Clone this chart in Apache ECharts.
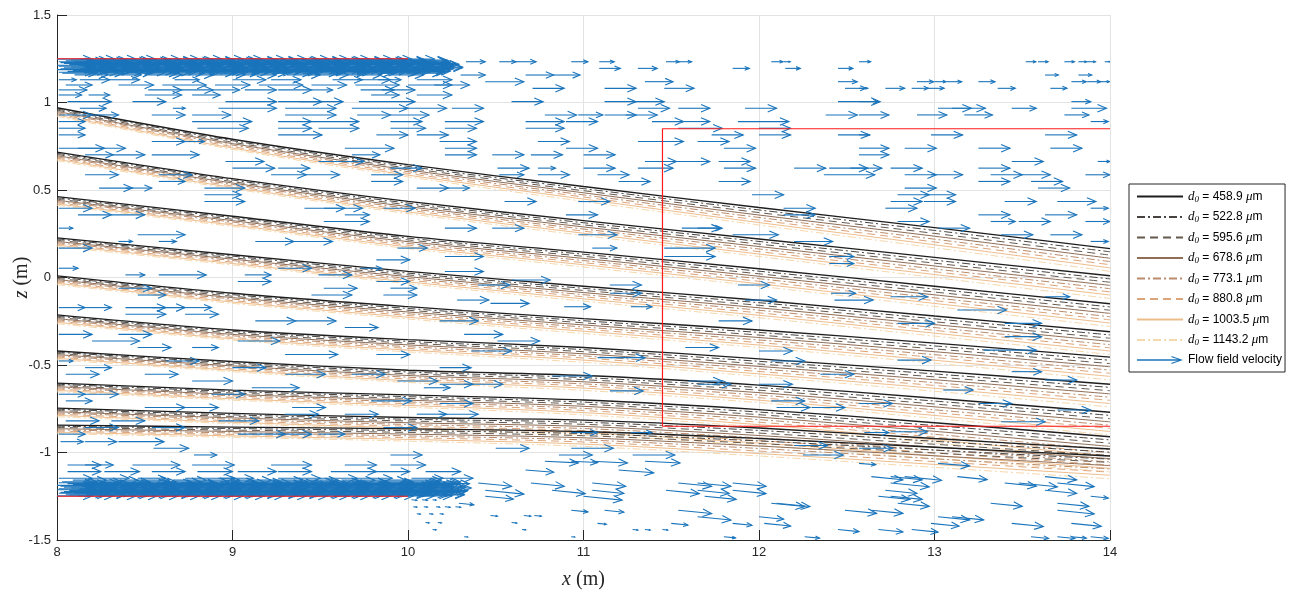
<!DOCTYPE html>
<html><head><meta charset="utf-8">
<script src="https://cdn.jsdelivr.net/npm/echarts@6/dist/echarts.min.js"></script>
<style>html,body{margin:0;padding:0;background:#fff}#c{width:1289px;height:592px}</style>
</head><body><div id="c"></div><script>
// ---------- data ----------
const xTicks = [8, 9, 10, 11, 12, 13, 14];
const zTicks = [-1.5, -1, -0.5, 0, 0.5, 1, 1.5];
const diameters = ['458.9', '522.8', '595.6', '678.6', '773.1', '880.8', '1003.5', '1143.2'];
const trajX = [8, 9, 10, 11, 12, 13, 14];
// smallest-droplet trajectory z at trajX, one per release height
const trajBase = [
  [0.970, 0.790, 0.645, 0.520, 0.400, 0.285, 0.165],
  [0.717, 0.565, 0.435, 0.325, 0.220, 0.115, 0.010],
  [0.462, 0.350, 0.235, 0.145, 0.050, -0.050, -0.150],
  [0.227, 0.130, 0.035, -0.050, -0.130, -0.220, -0.310],
  [0.009, -0.090, -0.167, -0.235, -0.300, -0.375, -0.455],
  [-0.214, -0.300, -0.355, -0.400, -0.465, -0.535, -0.610],
  [-0.420, -0.480, -0.530, -0.560, -0.615, -0.690, -0.770],
  [-0.603, -0.643, -0.671, -0.700, -0.755, -0.830, -0.910],
  [-0.746, -0.777, -0.800, -0.815, -0.860, -0.920, -0.980],
  [-0.843, -0.855, -0.865, -0.880, -0.920, -0.970, -1.020]
];
// extra fall below the smallest droplet, per diameter, at trajX
const diamDrop = [
  [0, 0, 0, 0, 0, 0, 0],
  [0.007, 0.008, 0.010, 0.012, 0.014, 0.016, 0.018],
  [0.014, 0.017, 0.020, 0.024, 0.029, 0.033, 0.037],
  [0.021, 0.025, 0.030, 0.036, 0.043, 0.049, 0.055],
  [0.028, 0.033, 0.040, 0.048, 0.057, 0.066, 0.074],
  [0.035, 0.042, 0.050, 0.060, 0.072, 0.082, 0.092],
  [0.042, 0.050, 0.060, 0.072, 0.086, 0.098, 0.110],
  [0.050, 0.058, 0.070, 0.085, 0.100, 0.115, 0.130]
];
// quiver rows: [z, flow slope dz/dx, [x0, u0, x1, u1, ...]]
const quiverRows = [
  [1.233, 0, [10.33,.11,10.52,.095,10.61,.12,10.93,.095,11.09,.085,11.47,.076,11.54,.076,12.07,.066,12.14,.038,12.57,.066,13.52,.057,13.59,.057,13.74,.057,13.82,.047,13.87,.047,13.97,.03]],
  [1.195, 0, [11.09,.12,11.31,.11,11.85,.095,12.15,.085,12.45,.085]],
  [1.157, 0, [10.30,.14,10.67,.16,10.83,.15,13.63,.076,13.82,.076]],
  [1.13, 0, [8.01,.10,8.13,.17,8.30,.17,8.67,.14,9.00,.19,9.22,.17,9.57,.17,9.71,.19,9.83,.13,10.05,.20]],
  [1.119, 0, [10.44,.22,11.35,.16,12.45,.11,12.90,.095,13.00,.066,13.07,.085,13.25,.095,13.78,.085,13.87,.076,13.94,.057]],
  [1.10, 0, [8.05,.15,8.35,.20,8.60,.25,8.90,.20,9.15,.25,9.45,.20,9.70,.25,10.00,.25,10.15,.20]],
  [1.081, 0, [10.71,.18,11.12,.18,11.46,.17,12.49,.12,12.57,.05,12.72,.11,12.87,.095,12.96,.095,13.36,.10,13.66,.095]],
  [1.072, 0, [8.01,.16,8.52,.19,8.71,.18,8.89,.15,9.07,.18,9.26,.19,9.45,.12,9.73,.19,9.85,.19]],
  [1.043, 0, [8.01,.13,8.18,.12,8.50,.21,8.77,.16,9.79,.16,10.05,.20]],
  [1.005, 0, [8.06,.25,8.43,.19,8.96,.29,9.26,.25,9.38,.25,9.72,.32,10.59,.18,11.12,.18,11.28,.18,12.45,.24,12.57,.11,13.78,.11]],
  [0.967, 0, [8.13,.15,8.66,.07,8.92,.33,9.30,.29,9.68,.32,9.97,.25,10.25,.18,11.31,.18,11.54,.18,11.92,.18,13.02,.19,13.10,.19,13.44,.14,13.78,.20]],
  [0.929, 0, [8.01,.19,8.20,.15,8.54,.19,8.77,.22,9.30,.29,9.71,.19,9.90,.22,10.78,.18,10.97,.14,11.12,.18,11.24,.18,12.38,.18,12.57,.17,12.90,.17,13.17,.16,13.74,.14]],
  [0.891, 0, [8.01,.15,8.77,.34,9.26,.19,9.45,.27,9.90,.18,10.21,.22,10.67,.22,10.90,.18,11.39,.18,11.54,.18,11.88,.29,13.89,.10]],
  [0.853, 0, [8.01,.15,8.80,.29,9.26,.19,9.49,.23,9.90,.20,10.21,.18,10.67,.22,11.54,.25,12.00,.18]],
  [0.815, 0, [8.01,.15,9.26,.25,9.82,.18,10.05,.18,11.73,.18,12.00,.18,12.45,.18,12.57,.06,12.98,.18,13.63,.18]],
  [0.777, 0, [8.54,.19,8.73,.11,10.18,.21,10.74,.18,11.31,.26,11.65,.18]],
  [0.739, 0, [8.01,.26,8.12,.27,9.64,.28,10.21,.18,10.90,.18,11.80,.18,12.57,.17,12.83,.18,13.25,.18,13.66,.18]],
  [0.701, 0, [8.16,.16,8.31,.19,8.54,.27,9.68,.16,10.21,.18,10.48,.18,10.70,.18,11.00,.18,12.57,.17]],
  [0.663, 0, [8.96,.22,9.49,.26,11.35,.18,11.50,.22,11.77,.18,13.44,.18,13.93,.07]],
  [0.625, 0, [9.00,.24,9.26,.18,9.90,.18,10.51,.18,10.74,.10,11.00,.18,11.31,.20,11.80,.18,12.20,.18,12.40,.22,12.52,.18,12.75,.18,13.25,.18]],
  [0.587, 0, [8.16,.19,8.58,.19,9.22,.20,9.41,.20,9.79,.18,10.52,.14,10.74,.18,11.08,.18,12.37,.29,12.83,.18,12.98,.18,13.32,.18,13.48,.18,13.86,.14]],
  [0.549, 0, [8.58,.15,9.79,.18,11.20,.18,11.77,.18,13.25,.18,13.55,.18]],
  [0.511, 0, [8.24,.19,8.39,.15,8.84,.23,10.05,.18,10.21,.14,12.83,.18,13.59,.18]],
  [0.473, 0, [8.84,.21,11.96,.18,12.79,.18,12.94,.18]],
  [0.434, 0, [8.84,.23,10.55,.18,10.97,.18,12.75,.18,12.94,.18,13.40,.18,13.70,.22]],
  [0.396, 0, [8.01,.19,9.41,.23,9.52,.22,9.86,.18,12.14,.18,12.72,.18,13.89,.10]],
  [0.358, 0, [8.12,.19,8.31,.19,9.64,.14,10.90,.18,12.14,.18,13.25,.18,13.63,.18]],
  [0.32, 0, [9.52,.26,12.79,.18,13.32,.14,13.48,.18,13.86,.14]],
  [0.282, 0, [8.01,.08,10.21,.18,10.48,.18,11.56,.22,11.65,.14,13.02,.18]],
  [0.244, 0, [8.46,.27,10.97,.22,11.85,.26,13.38,.18,13.66,.18]],
  [0.206, 0, [8.35,.08,8.58,.10,9.13,.22,9.35,.22,12.20,.22,13.89,.10]],
  [0.168, 0, [8.01,.19,9.94,.17,11.05,.14,11.46,.29]],
  [0.12, 0, [10.21,.22,11.46,.29,12.40,.14]],
  [0.101, 0, [9.82,.19]],
  [0.08, 0, [12.40,.14]],
  [0.053, 0, [8.01,.11,9.26,.19,9.73,.12]],
  [0.034, 0, [10.21,.22]],
  [0.015, 0, [8.39,.11,8.58,.27,9.07,.15,9.49,.19]],
  [-0.014, 0, [10.59,.22]],
  [-0.023, 0, [9.03,.19,9.82,.19]],
  [-0.043, 0, [10.40,.18,11.15,.18,11.88,.18]],
  [-0.061, 0, [8.35,.19,9.52,.19,9.90,.15]],
  [-0.09, 0, [11.15,.18,12.41,.14]],
  [-0.1, 0, [8.46,.16,9.45,.23,9.86,.19]],
  [-0.11, 0, [12.75,.21,13.63,.14]],
  [-0.129, 0, [10.28,.18,11.92,.18,12.43,.22]],
  [-0.148, 0, [10.47,.22]],
  [-0.167, 0, [10.89,.15,11.27,.12]],
  [-0.172, 0, [8.01,.15,8.16,.15,8.39,.23,8.54,.19,8.73,.15]],
  [-0.186, 0, [13.13,.28]],
  [-0.21, 0, [8.39,.23,8.73,.19]],
  [-0.248, 0, [9.13,.23,9.36,.23,10.18,.22,11.77,.19]],
  [-0.262, 0, [12.79,.21,13.40,.21]],
  [-0.286, 0, [9.64,.19]],
  [-0.325, 0, [8.01,.19,8.35,.19,10.32,.22]],
  [-0.338, 0, [13.40,.21]],
  [-0.363, 0, [8.20,.27,9.03,.24,10.51,.24]],
  [-0.4, 0, [8.46,.19,8.77,.15,11.58,.19]],
  [-0.415, 0, [13.28,.30]],
  [-0.42, 0, [10.36,.23,12.00,.19]],
  [-0.44, 0, [9.30,.30,9.82,.19]],
  [-0.458, 0, [11.08,.27]],
  [-0.472, 0, [12.79,.19]],
  [-0.477, 0, [8.01,.08,8.62,.19,12.07,.19]],
  [-0.515, 0, [8.16,.15,9.00,.19,10.18,.18]],
  [-0.538, 0, [13.44,.17]],
  [-0.553, 0, [8.05,.19,8.50,.19,9.30,.23,9.68,.19,12.35,.19]],
  [-0.563, 0, [10.82,.23]],
  [-0.586, 0, [13.63,.18]],
  [-0.591, 0, [8.77,.23,9.94,.23,11.60,.19]],
  [-0.61, 0, [10.18,.19,10.32,.22,11.65,.19,12.00,.19]],
  [-0.63, 0, [9.11,.27,10.09,.15]],
  [-0.643, 0, [13.05,.17]],
  [-0.648, 0, [11.15,.19]],
  [-0.667, 0, [8.01,.15,8.16,.19,8.88,.19]],
  [-0.705, 0, [8.05,.15,9.79,.23,12.07,.19]],
  [-0.72, 0, [10.18,.19,12.57,.19,13.25,.19]],
  [-0.743, 0, [8.50,.23,8.73,.19,9.34,.19,12.10,.19,12.30,.19]],
  [-0.757, 0, [13.70,.19]],
  [-0.781, 0, [9.30,.19,9.64,.19,10.05,.17,10.18,.22]],
  [-0.819, 0, [8.05,.19,8.31,.19,8.92,.23]],
  [-0.824, 0, [13.38,.25]],
  [-0.857, 0, [8.16,.19,8.54,.19,9.86,.19]],
  [-0.881, 0, [12.75,.21]],
  [-0.886, 0, [10.93,.15,11.27,.12,12.60,.14]],
  [-0.895, 0, [8.01,.15,9.03,.27,9.26,.19,9.49,.15]],
  [-0.938, 0, [8.02,.13,8.16,.18,8.35,.26]],
  [-0.96, 0, [12.20,.19]],
  [-0.976, 0, [8.55,.20,10.50,.19,10.93,.24,12.57,.19]],
  [-1.014, 0, [8.78,.13,9.90,.18,10.86,.19,11.28,.24,12.25,.23]],
  [-1.05, -0.05, [10.78,.19,10.93,.15,11.05,.20,11.35,.20]],
  [-1.062, -0.08, [12.57,.095,13.02,.18]],
  [-1.071, 0, [8.06,.19,8.16,.16,8.43,.27,8.77,.24,9.22,.23,9.64,.18,9.90,.20]],
  [-1.10, -0.08, [10.67,.16,11.20,.20]],
  [-1.109, 0, [8.06,.19,8.27,.20,8.54,.19,8.80,.20,9.03,.22,9.26,.19,9.56,.26,9.79,.22,10.10,.20]],
  [-1.138, -0.1, [12.64,.18,12.75,.18,12.83,.21,13.13,.17,13.63,.18]],
  [-1.147, 0, [8.01,.19,8.20,.21,8.46,.16,8.73,.28,8.92,.20,9.26,.24,9.49,.22,9.71,.20,10.02,.18,10.18,.19]],
  [-1.174, -0.1, [10.40,.19,10.70,.19,11.05,.19,11.54,.19,11.65,.19,11.85,.19,12.75,.22,13.40,.18,13.48,.22,13.70,.21]],
  [-1.216, -0.1, [10.44,.22,10.82,.19,11.05,.18,11.47,.19,11.65,.18,11.85,.19,12.72,.18,13.63,.18]],
  [-1.25, -0.1, [10.44,.16,11.00,.22,11.69,.18,12.68,.18,12.75,.18,13.89,.10]],
  [-1.27, -0.1, [10.02,.03,10.08,.03,10.14,.02]],
  [-1.29, -0.1, [10.29,.085,12.07,.19,12.10,.19,12.79,.18,13.32,.18,13.70,.18]],
  [-1.31, -0.1, [10.03,.02,10.09,.02,10.16,.02,10.21,.03,10.27,.03]],
  [-1.33, -0.1, [10.93,.095,11.12,.11,11.54,.19,12.49,.18,12.64,.18,13.70,.21]],
  [-1.35, -0.1, [10.05,.02,10.12,.02,10.18,.02]],
  [-1.36, -0.1, [10.47,.04,10.66,.04,10.72,.04]],
  [-1.367, -0.1, [11.65,.19,12.00,.14,13.02,.18,13.10,.18]],
  [-1.40, -0.1, [10.10,.02,10.17,.02,10.59,.03]],
  [-1.405, -0.1, [11.08,.05,11.50,.095,11.85,.11,12.03,.15,12.98,.16,13.44,.18,13.78,.17]],
  [-1.44, -0.1, [10.14,.02,10.65,.02,11.28,.03,11.35,.03,11.45,.03,12.45,.12,12.68,.14,12.87,.15]],
  [-1.481, -0.1, [10.32,.02,10.93,.02,11.80,.066,12.26,.085,13.55,.10,13.70,.10,13.78,.085,13.89,.10]]
];
// dense near-wall bands: [z, u, [x0, x1, ...]]
const bandRows = [
  [1.248, .20, [8.00,8.13,8.25,8.36,8.50,8.61,8.74,8.86,8.97,9.10,9.22,9.35,9.46,9.58,9.71,9.82,9.95]],
  [1.243, .21, [8.08,8.19,8.32,8.44,8.56,8.68,8.80,8.93,9.04,9.16,9.29,9.41,9.53,9.65,9.78,9.89,10.01]],
  [1.238, .22, [8.05,8.17,8.30,8.42,8.55,8.66,8.79,8.91,9.03,9.15,9.27,9.40,9.51,9.64,9.76,9.88,10.00]],
  [1.233, .20, [8.01,8.10,8.22,8.34,8.46,8.59,8.71,8.82,8.95,9.07,9.18,9.31,9.43,9.55,9.67,9.79,9.91,10.03]],
  [1.228, .20, [8.02,8.11,8.23,8.38,8.47,8.60,8.72,8.83,8.96,9.08,9.19,9.33,9.44,9.57,9.69,9.80,9.93,10.04]],
  [1.223, .21, [8.04,8.15,8.28,8.40,8.52,8.64,8.76,8.88,9.00,9.12,9.24,9.37,9.48,9.60,9.72,9.84,9.96,10.06]],
  [1.218, .22, [8.07,8.19,8.31,8.44,8.53,8.67,8.78,8.90,9.02,9.14,9.26,9.38,9.50,9.62,9.74,9.86,9.98,10.07]],
  [1.213, .20, [8.00,8.12,8.24,8.36,8.49,8.61,8.73,8.85,8.97,9.09,9.21,9.33,9.46,9.58,9.70,9.82,9.94,10.06]],
  [1.208, .21, [8.01,8.14,8.26,8.37,8.49,8.62,8.73,8.85,8.98,9.09,9.21,9.34,9.45,9.57,9.70,9.81,9.94,10.05]],
  [1.203, .22, [8.08,8.20,8.32,8.45,8.57,8.69,8.81,8.93,9.05,9.17,9.30,9.42,9.54,9.66,9.78,9.90,10.02,10.09]],
  [1.198, .23, [8.04,8.16,8.29,8.41,8.56,8.68,8.80,8.92,9.04,9.17,9.29,9.41,9.53,9.65,9.77,9.89,10.01,10.08]],
  [1.193, .20, [8.02,8.13,8.27,8.39,8.51,8.63,8.75,8.87,8.99,9.11,9.23,9.36,9.48,9.60,9.73,9.85,9.97,10.06]],
  [1.188, .21, [8.00,8.12,8.24,8.35,8.48,8.59,8.71,8.84,8.95,9.07,9.20,9.31,9.43,9.55,9.68,9.79,9.92,10.03]],
  [1.183, .21, [8.09,8.22,8.37,8.51,8.65,8.77,8.90,9.02,9.13,9.27,9.39,9.52,9.63,9.75,9.88,10.00]],
  [1.178, .22, [8.06,8.20,8.33,8.45,8.58,8.70,8.83,8.94,9.06,9.18,9.30,9.42,9.54,9.66,9.78,9.91,10.02]],
  [1.173, .20, [8.01,8.15,8.29,8.42,8.56,8.73,8.87,9.01,9.14,9.28,9.44,9.59,9.74,9.87,10.01]],
  [1.168, .20, [8.03,8.18,8.34,8.49,8.64,8.81,8.95,9.11,9.25,9.40,9.56,9.71,9.85,9.99]],
  [1.158, .19, [8.10,8.29,8.52,8.70,8.88,9.06,9.31,9.47,9.66,9.90]],
  [-1.248, .20, [8.00,8.12,8.25,8.37,8.49,8.61,8.73,8.86,8.98,9.09,9.22,9.34,9.46,9.58,9.70,9.83,9.95,10.05]],
  [-1.243, .21, [8.07,8.18,8.31,8.43,8.55,8.68,8.80,8.92,9.04,9.16,9.28,9.41,9.53,9.65,9.77,9.89,10.02,10.11]],
  [-1.238, .22, [8.05,8.17,8.29,8.41,8.54,8.66,8.78,8.90,9.03,9.15,9.27,9.39,9.51,9.63,9.75,9.88,10.00,10.10]],
  [-1.233, .20, [8.01,8.10,8.23,8.35,8.47,8.59,8.71,8.83,8.96,9.08,9.20,9.32,9.44,9.56,9.68,9.81,9.93,10.06]],
  [-1.228, .21, [8.02,8.14,8.26,8.38,8.50,8.63,8.75,8.87,8.99,9.11,9.24,9.36,9.48,9.60,9.72,9.84,9.97,10.08]],
  [-1.223, .21, [8.04,8.16,8.28,8.40,8.52,8.64,8.77,8.89,9.01,9.13,9.25,9.38,9.50,9.62,9.74,9.86,9.98,10.12]],
  [-1.218, .22, [8.07,8.19,8.31,8.43,8.56,8.68,8.80,8.93,9.05,9.17,9.29,9.41,9.53,9.66,9.78,9.90,10.02,10.12]],
  [-1.213, .20, [8.00,8.12,8.24,8.37,8.49,8.61,8.73,8.85,8.97,9.10,9.22,9.34,9.46,9.58,9.70,9.83,9.95,10.09]],
  [-1.208, .21, [8.01,8.13,8.24,8.36,8.48,8.60,8.72,8.84,8.96,9.08,9.20,9.32,9.45,9.57,9.69,9.81,9.93,10.05]],
  [-1.203, .22, [8.08,8.20,8.33,8.45,8.57,8.69,8.81,8.94,9.06,9.18,9.30,9.42,9.55,9.67,9.79,9.91,10.04,10.14]],
  [-1.198, .23, [8.04,8.16,8.28,8.40,8.53,8.65,8.77,8.89,9.01,9.14,9.26,9.38,9.50,9.62,9.74,9.87,9.99,10.10]],
  [-1.193, .20, [8.02,8.14,8.26,8.38,8.51,8.63,8.75,8.87,8.99,9.12,9.24,9.36,9.48,9.60,9.72,9.85,9.97,10.11]],
  [-1.188, .21, [8.00,8.11,8.23,8.35,8.47,8.59,8.71,8.83,8.95,9.07,9.19,9.31,9.43,9.55,9.68,9.80,9.92,10.04]],
  [-1.183, .21, [8.09,8.21,8.34,8.46,8.58,8.71,8.84,8.96,9.09,9.22,9.34,9.47,9.59,9.71,9.84,9.96,10.08]],
  [-1.178, .22, [8.06,8.19,8.31,8.44,8.57,8.69,8.82,8.94,9.06,9.18,9.30,9.43,9.56,9.68,9.80,9.93,10.05,10.13]],
  [-1.173, .20, [8.01,8.15,8.29,8.43,8.57,8.71,8.85,8.99,9.13,9.27,9.41,9.55,9.69,9.83,9.97,10.09]],
  [-1.168, .20, [8.03,8.17,8.33,8.48,8.62,8.78,8.93,9.08,9.23,9.38,9.53,9.68,9.83,9.98,10.10]],
  [-1.158, .19, [8.09,8.27,8.45,8.66,8.85,9.03,9.21,9.41,9.62,9.80,10.00]]
];
const redLines = [
  [[8, 1.25], [10, 1.25]],
  [[8, -1.25], [10, -1.25]],
  [[14, 0.85], [11.45, 0.85], [11.45, -0.85], [14, -0.85]]
];

// ---------- styles ----------
const lineColors = ['#1e1e1e', '#474340', '#64594f', '#8f6d56', '#b98b6b', '#dca47a', '#eebd8c', '#f6d8ad'];
const lineWidths = [1.3, 1, 1, 1, 1, 1, 1, 1];
const lineTypes = ['solid', [8, 3, 2, 3], [8, 5], 'solid', [8, 3, 2, 3], [8, 5], 'solid', [8, 3, 2, 3]];
const arrowColor = '#1a74bb';
const axisColor = '#262626';
const legendNames = diameters.map(d => 'd0 = ' + d + ' μm');

function renderArrow(params, api) {
  const x = api.value(0), z = api.value(1), u = api.value(2), v = api.value(3);
  const p0 = api.coord([x, z]);
  const p1 = api.coord([x + u, z + v]);
  const dx = p1[0] - p0[0], dy = p1[1] - p0[1];
  const L = Math.hypot(dx, dy) || 1;
  const ux = dx / L, uy = dy / L;
  const h = Math.min(9, L * 0.28), w = h * 0.42;
  const bx = p1[0] - ux * h, by = p1[1] - uy * h;
  const st = { stroke: arrowColor, fill: null, lineWidth: 1.1 };
  return {
    type: 'group',
    children: [
      { type: 'line', shape: { x1: p0[0], y1: p0[1], x2: p1[0], y2: p1[1] }, style: st },
      { type: 'polyline', shape: { points: [[bx - uy * w, by + ux * w], [p1[0], p1[1]], [bx + uy * w, by - ux * w]] }, style: st }
    ]
  };
}

const series = [];
for (let k = diameters.length - 1; k >= 0; k--) {
  trajBase.forEach(base => {
    series.push({
      type: 'line', name: legendNames[k],
      data: trajX.map((x, i) => [x, +(base[i] - diamDrop[k][i]).toFixed(4)]),
      symbol: 'none', smooth: 0.3, silent: true, animation: false, z: 2,
      lineStyle: { color: lineColors[k], width: lineWidths[k], type: lineTypes[k] },
      itemStyle: { color: lineColors[k], opacity: 0 }
    });
  });
}
const arrows = [];
quiverRows.forEach(([z, slope, pairs]) => {
  for (let i = 0; i < pairs.length; i += 2) arrows.push([pairs[i], z, pairs[i + 1], slope * pairs[i + 1]]);
});
bandRows.forEach(([z, u, xs]) => xs.forEach(x => arrows.push([x, z, u, 0])));
series.push({
  type: 'custom', name: 'Flow field velocity', renderItem: renderArrow, data: arrows,
  encode: { x: 0, y: 1 }, clip: true, z: 3, silent: true, animation: false,
  itemStyle: { color: arrowColor }
});
redLines.forEach(pts => series.push({
  type: 'line', name: 'red', data: pts, symbol: 'none', silent: true, animation: false, z: 4,
  lineStyle: { color: '#ff1a1a', width: 1.2 }
}));

const chart = echarts.init(document.getElementById('c'));
chart.setOption({
  animation: false,
  backgroundColor: '#fff',
  grid: { left: 57, right: 179, top: 15, bottom: 52, containLabel: false, outerBoundsMode: 'none' },
  xAxis: {
    type: 'value', min: xTicks[0], max: xTicks[xTicks.length - 1], interval: 1,
    axisLine: { show: true, onZero: false, lineStyle: { color: axisColor, width: 1 } },
    axisTick: { show: true, inside: true, length: 10, lineStyle: { color: axisColor } },
    axisLabel: { color: axisColor, fontSize: 13, fontFamily: 'Liberation Sans', margin: 6 },
    splitLine: { show: true, lineStyle: { color: '#e3e3e3', width: 1 } },
    name: '{i|x} (m)', nameLocation: 'middle', nameGap: 30, nameMoveOverlap: false,
    nameTextStyle: { color: axisColor, fontSize: 20, fontFamily: 'Liberation Serif',
      rich: { i: { fontStyle: 'italic', fontSize: 20, fontFamily: 'Liberation Serif', color: axisColor } } }
  },
  yAxis: {
    type: 'value', min: zTicks[0], max: zTicks[zTicks.length - 1], interval: 0.5,
    axisLine: { show: true, onZero: false, lineStyle: { color: axisColor, width: 1 } },
    axisTick: { show: true, inside: true, length: 10, lineStyle: { color: axisColor } },
    axisLabel: { color: axisColor, fontSize: 13, fontFamily: 'Liberation Sans', margin: 6 },
    splitLine: { show: true, lineStyle: { color: '#e3e3e3', width: 1 } },
    name: '{i|z} (m)', nameLocation: 'middle', nameGap: 25, nameRotate: 90, nameMoveOverlap: false,
    nameTextStyle: { color: axisColor, fontSize: 20, fontFamily: 'Liberation Serif',
      rich: { i: { fontStyle: 'italic', fontSize: 20, fontFamily: 'Liberation Serif', color: axisColor } } }
  },
  legend: {
    orient: 'vertical', left: 1129, top: 184,
    data: legendNames.map(n => ({ name: n, itemStyle: { opacity: 0 } })).concat([{ name: 'Flow field velocity',
      icon: 'path://M0,4.4 L41,4.4 L41,5.6 L0,5.6 Z M33,1.2 L44,5 L33,8.8 L33,7.6 L41.5,5 L33,2.4 Z' }]),
    itemWidth: 46, itemHeight: 14, itemGap: 6.5,
    padding: [6, 3, 6, 7],
    backgroundColor: '#fff', borderColor: axisColor, borderWidth: 1, borderRadius: 0,
    selectedMode: false,
    formatter: function (name) {
      const m = name.match(/^d0 = (.*) μm$/);
      if (m) return '{i|d}{s|0}{t| = ' + m[1] + ' }{i|μ}{t|m}';
      return '{t|' + name + '}';
    },
    textStyle: {
      color: '#000', fontSize: 12, fontFamily: 'Liberation Sans',
      rich: {
        t: { fontSize: 12, fontFamily: 'Liberation Sans', color: '#000' },
        i: { fontSize: 13, fontStyle: 'italic', fontFamily: 'Liberation Serif', color: '#000' },
        s: { fontSize: 9, fontStyle: 'italic', fontFamily: 'Liberation Serif', color: '#000', padding: [6, 0, 0, 0] }
      }
    }
  },
  series: series
});
</script></body></html>
